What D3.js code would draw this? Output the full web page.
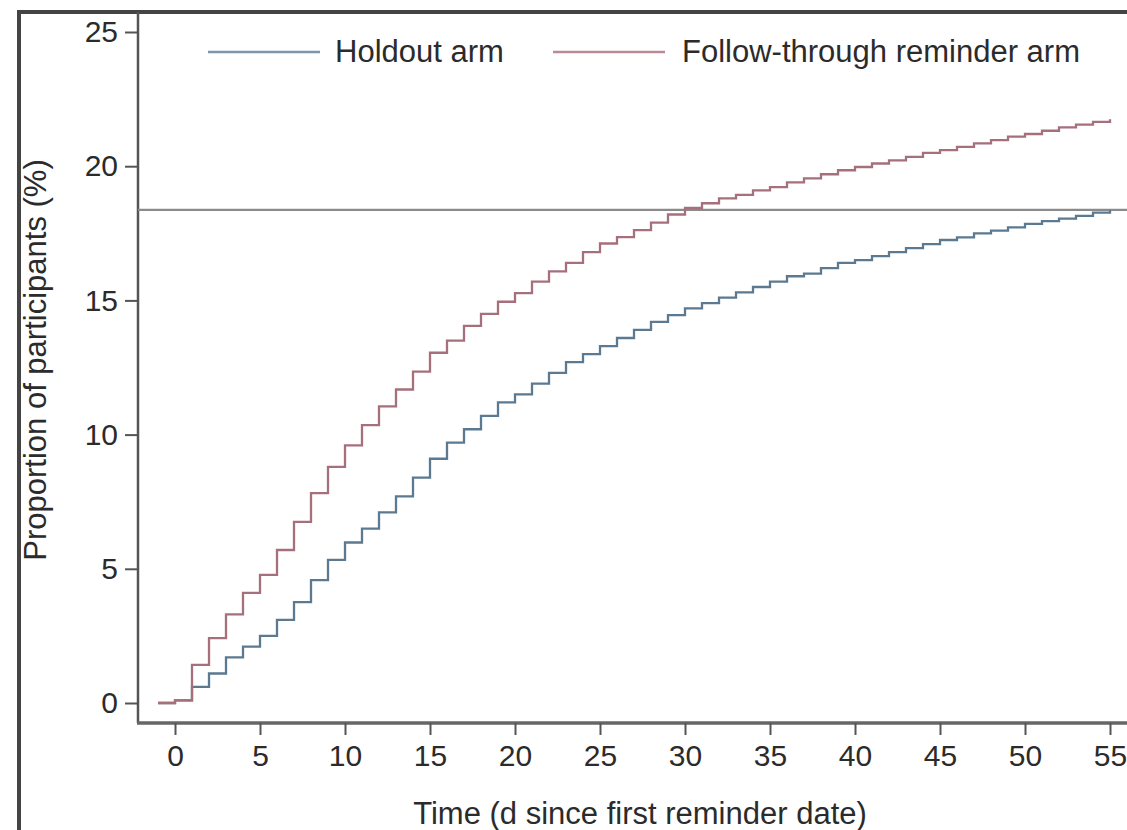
<!DOCTYPE html>
<html>
<head>
<meta charset="utf-8">
<script src="https://cdn.jsdelivr.net/npm/d3@7"></script>
<style>
  html, body { margin: 0; padding: 0; background: #fff; }
  svg { display: block; }
  text { font-family: "Liberation Sans", Arial, Helvetica, sans-serif; fill: #2b2b2b; }
</style>
</head>
<body>
<svg id="chart" width="1127" height="830"></svg>
<script>
// ---- data ----
const days = d3.range(-1, 55); // step starts, -1 .. 54
const holdout = [0, 0.1, 0.6, 1.1, 1.7, 2.1, 2.5, 3.1, 3.76, 4.58, 5.33,
  5.98, 6.5, 7.1, 7.7, 8.4, 9.1, 9.7, 10.2, 10.7, 11.2,
  11.5, 11.9, 12.3, 12.7, 13.0, 13.3, 13.6, 13.9, 14.2, 14.45,
  14.7, 14.9, 15.1, 15.3, 15.5, 15.7, 15.9, 16.0, 16.2, 16.4,
  16.5, 16.65, 16.8, 16.95, 17.1, 17.25, 17.35, 17.5, 17.6, 17.72,
  17.85, 17.95, 18.05, 18.15, 18.27, 18.37];
const followThrough = [0, 0.1, 1.42, 2.42, 3.3, 4.1, 4.77, 5.7, 6.75, 7.82, 8.8,
  9.6, 10.35, 11.05, 11.68, 12.35, 13.05, 13.5, 14.05, 14.5, 14.95,
  15.27, 15.7, 16.08, 16.4, 16.8, 17.12, 17.36, 17.62, 17.9, 18.2,
  18.45, 18.62, 18.8, 18.93, 19.1, 19.22, 19.4, 19.55, 19.7, 19.85,
  19.97, 20.1, 20.22, 20.35, 20.5, 20.6, 20.72, 20.85, 20.97, 21.1,
  21.2, 21.32, 21.45, 21.55, 21.65, 21.75];
const endDay = 55;
const referenceLevel = 18.37;
const xTicks = [0, 5, 10, 15, 20, 25, 30, 35, 40, 45, 50, 55];
const yTicks = [0, 5, 10, 15, 20, 25];
const seriesNames = ["Holdout arm", "Follow-through reminder arm"];
const seriesColors = ["#5b7a91", "#a66f7c"];
const legendColors = ["#7d96aa", "#b98a95"];
const xTitle = "Time (d since first reminder date)";
const yTitle = "Proportion of participants (%)";

// ---- layout ----
const svg = d3.select("#chart");
const x = d3.scaleLinear().domain([0, 55]).range([175, 1110]);
const y = d3.scaleLinear().domain([0, 25]).range([703, 32]);
const axisLeftX = 138, axisBottomY = 723, frameTop = 12, frameLeft = 19;

// outer frame
svg.append("path")
  .attr("d", `M${frameLeft},840 V${frameTop} H1140`)
  .attr("fill", "none").attr("stroke", "#444").attr("stroke-width", 4);

// axes lines
svg.append("line").attr("x1", axisLeftX).attr("x2", axisLeftX)
  .attr("y1", frameTop).attr("y2", axisBottomY)
  .attr("stroke", "#555").attr("stroke-width", 2.5);
svg.append("line").attr("x1", axisLeftX - 1).attr("x2", 1127)
  .attr("y1", axisBottomY).attr("y2", axisBottomY)
  .attr("stroke", "#666").attr("stroke-width", 3.5);

// y axis
const yAxis = svg.append("g").attr("transform", `translate(${axisLeftX},0)`)
  .call(d3.axisLeft(y).tickValues(yTicks).tickSize(13).tickPadding(7).tickFormat(d3.format("d")));
yAxis.select(".domain").remove();
yAxis.selectAll(".tick line").attr("stroke", "#555").attr("stroke-width", 2);
yAxis.selectAll(".tick text").attr("font-size", 30).attr("fill", "#2b2b2b")
  .attr("font-family", "'Liberation Sans', Arial, sans-serif");

// x axis
const xAxis = svg.append("g").attr("transform", `translate(0,${axisBottomY})`)
  .call(d3.axisBottom(x).tickValues(xTicks).tickSize(12).tickPadding(10).tickFormat(d3.format("d")));
xAxis.select(".domain").remove();
xAxis.selectAll(".tick line").attr("stroke", "#555").attr("stroke-width", 2);
xAxis.selectAll(".tick text").attr("font-size", 30).attr("fill", "#2b2b2b")
  .attr("font-family", "'Liberation Sans', Arial, sans-serif");

// reference line
svg.append("line")
  .attr("x1", axisLeftX).attr("x2", 1127)
  .attr("y1", y(referenceLevel)).attr("y2", y(referenceLevel))
  .attr("stroke", "#8a8a8a").attr("stroke-width", 2.2);

// step lines
const line = d3.line().x(d => x(d[0])).y(d => y(d[1])).curve(d3.curveStepAfter);
[holdout, followThrough].forEach((vals, i) => {
  const pts = days.map((d, j) => [d, vals[j]]);
  pts.push([endDay, vals[vals.length - 1]]);
  svg.append("path").datum(pts)
    .attr("d", line)
    .attr("fill", "none")
    .attr("stroke", seriesColors[i])
    .attr("stroke-width", 2.3);
});

// legend
const legendItems = [
  { x1: 208, x2: 320, tx: 335 },
  { x1: 553, x2: 665, tx: 682 }
];
legendItems.forEach((it, i) => {
  svg.append("line").attr("x1", it.x1).attr("x2", it.x2).attr("y1", 52).attr("y2", 52)
    .attr("stroke", legendColors[i]).attr("stroke-width", 2.5);
  svg.append("text").attr("x", it.tx).attr("y", 62).attr("font-size", 31)
    .text(seriesNames[i]);
});

// axis titles
svg.append("text").attr("x", 640).attr("y", 824).attr("text-anchor", "middle")
  .attr("font-size", 31).text(xTitle);
svg.append("text").attr("transform", "translate(46,360) rotate(-90)")
  .attr("text-anchor", "middle").attr("font-size", 31).text(yTitle);
</script>
</body>
</html>
